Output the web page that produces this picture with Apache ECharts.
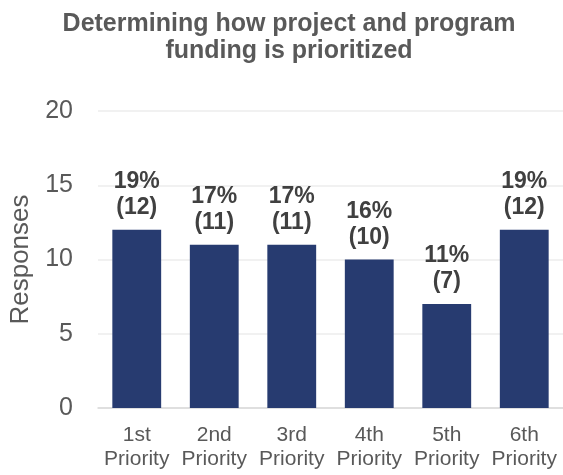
<!DOCTYPE html>
<html>
<head>
<meta charset="utf-8">
<script src="https://cdn.jsdelivr.net/npm/echarts@6/dist/echarts.min.js"></script>
<style>html,body{margin:0;padding:0;background:#fff}#c{width:563px;height:475px}</style>
</head>
<body>
<div id="c"></div>
<script>
const categories = ['1st\nPriority', '2nd\nPriority', '3rd\nPriority', '4th\nPriority', '5th\nPriority', '6th\nPriority'];
const responses = [12, 11, 11, 10, 7, 12];
const percents = ['19%', '17%', '17%', '16%', '11%', '19%'];
const yTicks = [0, 5, 10, 15, 20];

const chart = echarts.init(document.getElementById('c'));
chart.setOption({
  animation: false,
  title: {
    text: 'Determining how project and program\nfunding is prioritized',
    left: 284, top: 6, textAlign: 'center',
    textStyle: { fontFamily: 'Liberation Sans', fontWeight: 'bold', fontSize: 25, color: '#595959', lineHeight: 27 }
  },
  grid: { left: 98, top: 111, width: 467, height: 297, containLabel: false },
  xAxis: {
    type: 'category', data: categories,
    axisLine: { show: true, lineStyle: { color: '#d9d9d9', width: 1.5 } },
    axisTick: { show: false },
    axisLabel: { fontFamily: 'Liberation Sans', fontSize: 21, color: '#595959', lineHeight: 24, margin: 15, interval: 0 }
  },
  yAxis: {
    type: 'value', min: yTicks[0], max: yTicks[yTicks.length - 1], interval: 5,
    name: 'Responses', nameLocation: 'middle', nameGap: 55, nameRotate: 90,
    nameTextStyle: { fontFamily: 'Liberation Sans', fontSize: 26, color: '#595959' },
    axisLine: { show: false }, axisTick: { show: false },
    axisLabel: { fontFamily: 'Liberation Sans', fontSize: 25, color: '#595959', margin: 25 },
    splitLine: { lineStyle: { color: '#ececec', width: 1.5 } }
  },
  series: [{
    type: 'bar', data: responses, barWidth: '63%',
    itemStyle: { color: '#273B70' },
    label: {
      show: true, position: 'top', distance: 9,
      formatter: p => percents[p.dataIndex] + '\n(' + responses[p.dataIndex] + ')',
      fontFamily: 'Liberation Sans', fontWeight: 'bold', fontSize: 23, color: '#404040', lineHeight: 26
    }
  }]
});
</script>
</body>
</html>
